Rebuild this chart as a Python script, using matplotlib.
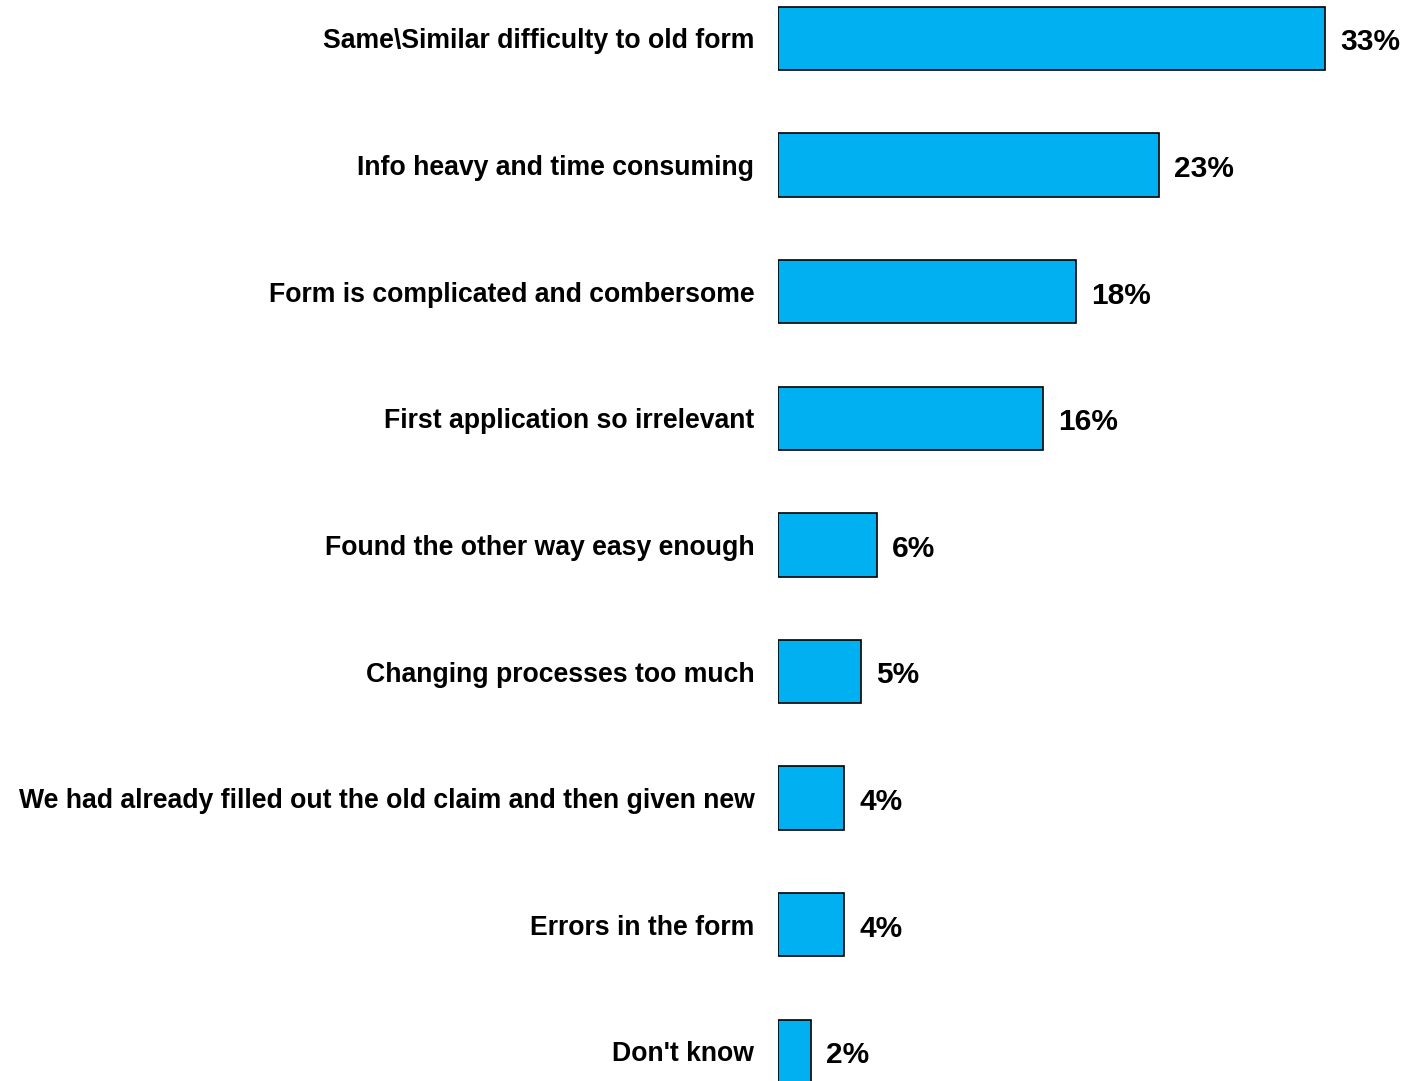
import matplotlib
matplotlib.use("Agg")
import matplotlib.pyplot as plt

categories = [
    "Same\\Similar difficulty to old form",
    "Info heavy and time consuming",
    "Form is complicated and combersome",
    "First application so irrelevant",
    "Found the other way easy enough",
    "Changing processes too much",
    "We had already filled out the old claim and then given new",
    "Errors in the form",
    "Don't know",
]
values = [33, 23, 18, 16, 6, 5, 4, 4, 2]

plt.rcParams['font.family'] = ['Liberation Sans', 'DejaVu Sans']

fig = plt.figure(figsize=(14.06, 10.81), dpi=100)
# axes starts where the bars start; extends past the right edge on purpose
ax = fig.add_axes([778 / 1406, 0, 621.6 / 1406, 1])

y = list(range(len(categories)))
ax.barh(y, values, height=0.5, color='#00B0F0', edgecolor='black', linewidth=1.2)

for yi, v in zip(y, values):
    ax.text(v + 0.9, yi + 0.03, f"{v}%", va='center', ha='left',
            fontsize=21.5, fontweight='bold')

ax.set_xlim(0, 37.5)
ax.set_ylim(8.234, -0.304)
ax.set_yticks(y)
ax.set_yticklabels(categories, fontsize=19.2, fontweight='bold')
ax.tick_params(axis='y', length=0, pad=17)
ax.set_xticks([])
for s in ax.spines.values():
    s.set_visible(False)

fig.savefig("out.png", dpi=100)
